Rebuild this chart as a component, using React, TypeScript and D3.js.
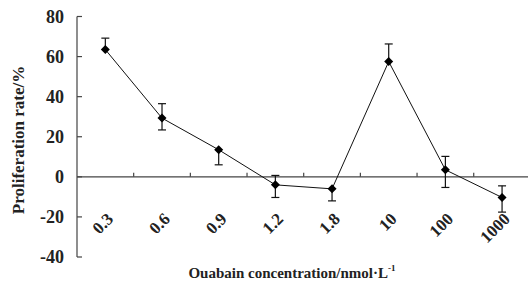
import React from "react";
import * as d3 from "d3";

const categories = ["0.3", "0.6", "0.9", "1.2", "1.8", "10", "100", "1000"];
const values = [63.5, 29.3, 13.5, -4, -6, 57.5, 3.5, -10.3];
const errUp = [5.7, 7.2, 0, 4.7, 0, 8.8, 6.7, 5.8];
const errDown = [0, 5.9, 7.5, 6.3, 6, 0, 8.8, 7.3];
const yTicks = [-40, -20, 0, 20, 40, 60, 80];

const W = 528;
const H = 295;
const serif = "'Liberation Serif', 'Times New Roman', serif";

export default function App() {
  const x = d3.scaleBand<string>().domain(categories).range([77, 530.4]).padding(0);
  const y = d3.scaleLinear().domain([-40, 80]).range([257, 16.5]);
  const cx = (c: string) => (x(c) as number) + x.bandwidth() / 2;
  const line = d3
    .line<number>()
    .x((_, i) => cx(categories[i]))
    .y((v) => y(v));
  const axisColor = "#444";
  const y0 = y(0);
  const diamond = (px: number, py: number, r: number) =>
    `M${px},${py - r}L${px + r},${py}L${px},${py + r}L${px - r},${py}Z`;

  return (
    <svg
      width={W}
      height={H}
      style={{ position: "absolute", left: 0, top: 0, background: "#fff" }}
      fontFamily={serif}
    >
      <rect x={0} y={0} width={W} height={H} fill="#fff" />
      {/* Y axis */}
      <line x1={77} x2={77} y1={y(80)} y2={y(-40)} stroke={axisColor} strokeWidth={1.2} />
      {yTicks.map((t) => (
        <g key={t}>
          <line x1={77} x2={82} y1={y(t)} y2={y(t)} stroke={axisColor} strokeWidth={1.2} />
          <text
            x={64}
            y={y(t)}
            dy="0.35em"
            textAnchor="end"
            fontSize={18}
            fontWeight="bold"
            fill="#222"
          >
            {t}
          </text>
        </g>
      ))}
      {/* X axis at zero */}
      <line x1={77} x2={W} y1={y0} y2={y0} stroke={axisColor} strokeWidth={1.2} />
      {categories.map((c, i) =>
        i === 0 ? null : (
          <line
            key={c}
            x1={x(c) as number}
            x2={x(c) as number}
            y1={y0}
            y2={y0 - 4}
            stroke={axisColor}
            strokeWidth={1.2}
          />
        )
      )}
      {categories.map((c) => {
        const ax = cx(c) + 9;
        const ay = 220;
        return (
          <text
            key={"l" + c}
            x={ax}
            y={ay}
            textAnchor="end"
            fontSize={17}
            fontWeight="bold"
            fill="#222"
            transform={`rotate(-45 ${ax} ${ay})`}
          >
            {c}
          </text>
        );
      })}
      {/* data line */}
      <path d={line(values) || ""} fill="none" stroke="#111" strokeWidth={1} />
      {/* error bars */}
      {categories.map((c, i) => {
        const px = cx(c);
        const top = y(values[i] + errUp[i]);
        const bot = y(values[i] - errDown[i]);
        return (
          <g key={"e" + c} stroke="#111" strokeWidth={1.2}>
            {errUp[i] > 0 && (
              <>
                <line x1={px} x2={px} y1={y(values[i])} y2={top} />
                <line x1={px - 4} x2={px + 4} y1={top} y2={top} />
              </>
            )}
            {errDown[i] > 0 && (
              <>
                <line x1={px} x2={px} y1={y(values[i])} y2={bot} />
                <line x1={px - 4} x2={px + 4} y1={bot} y2={bot} />
              </>
            )}
          </g>
        );
      })}
      {/* markers */}
      {categories.map((c, i) => (
        <path key={"m" + c} d={diamond(cx(c), y(values[i]), 4.5)} fill="#000" />
      ))}
      {/* axis titles */}
      <text
        transform={`translate(24, 140) rotate(-90)`}
        textAnchor="middle"
        fontSize={17}
        fontWeight="bold"
        fill="#222"
      >
        Proliferation rate/%
      </text>
      <text x={292} y={278} textAnchor="middle" fontSize={15} fontWeight="bold" fill="#222">
        Ouabain concentration/nmol·L
        <tspan fontSize={9} dy={-7}>
          -1
        </tspan>
      </text>
    </svg>
  );
}
